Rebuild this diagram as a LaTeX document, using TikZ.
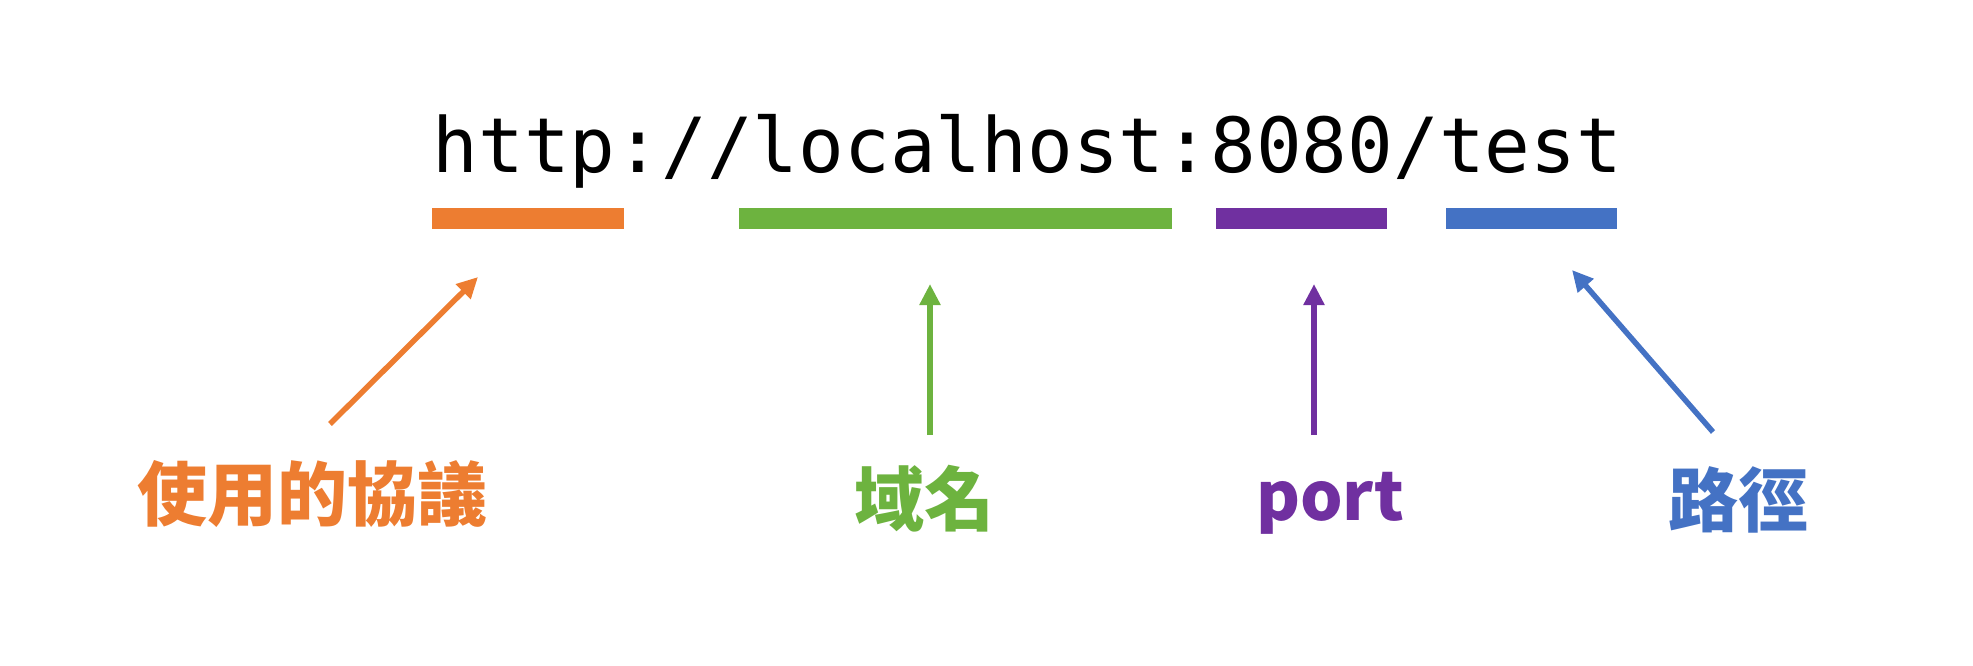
\documentclass[tikz,border=0pt]{standalone}
\usepackage{fontspec}
\usetikzlibrary{arrows.meta}
\newfontfamily\urlfont{DejaVu Sans Mono}
\newfontfamily\cjk{Noto Sans CJK TC}
\definecolor{cOrange}{HTML}{ED7D31}
\definecolor{cGreen}{HTML}{6DB33F}
\definecolor{cPurple}{HTML}{7030A0}
\definecolor{cBlue}{HTML}{4472C4}
\begin{document}
\begin{tikzpicture}[x=1pt,y=-1pt,
  bar/.style={fill=#1, draw=none},
  ptr/.style={draw=#1, line width=5.5pt, -{Triangle[length=21pt,width=20pt]}},
  lbl/.style={text=#1, inner sep=0pt, font=\cjk\bfseries\fontsize{70pt}{80pt}\selectfont}]
\useasboundingbox (0,0) rectangle (1973,666);
\node[anchor=base, inner sep=0pt, font=\urlfont\fontsize{76pt}{80pt}\selectfont] (url) at (1027.5,172) {http://localhost:8080/test};
% bars
\fill[bar=cOrange] (432,208) rectangle (624,229);
\fill[bar=cGreen] (739,208) rectangle (1172,229);
\fill[bar=cPurple] (1216,208) rectangle (1387,229);
\fill[bar=cBlue] (1446,208) rectangle (1617,229);
% labels
\node[lbl=cOrange] (proto) at (312,494) {使用的協議};
\node[lbl=cGreen] (domain) at (924,499) {域名};
\node[lbl=cPurple, anchor=base, font=\cjk\bfseries\fontsize{67pt}{80pt}\selectfont] (port) at (1330,520) {port};
\node[lbl=cBlue] (path) at (1738,500) {路徑};
% arrow ends
\coordinate (a1) at (330,424); \coordinate (b1) at (478,277);
\coordinate (a2) at (930,435); \coordinate (b2) at (930,284);
\coordinate (a3) at (1314,435); \coordinate (b3) at (1314,284);
\coordinate (a4) at (1713,432); \coordinate (b4) at (1572,270);
\draw[ptr=cOrange] (a1) -- (b1);
\draw[ptr=cGreen] (a2) -- (b2);
\draw[ptr=cPurple] (a3) -- (b3);
\draw[ptr=cBlue] (a4) -- (b4);
\end{tikzpicture}
\end{document}
